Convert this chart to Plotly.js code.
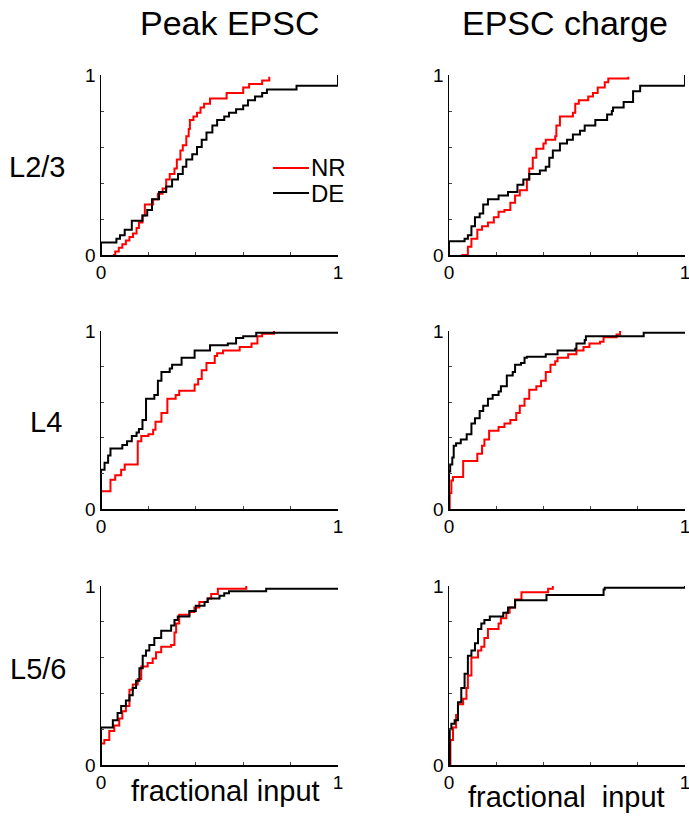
<!DOCTYPE html>
<html>
<head>
<meta charset="utf-8">
<script src="https://cdn.plot.ly/plotly-3.0.1.min.js"></script>
<style>html,body{margin:0;padding:0;background:#fff;}#chart{width:689px;height:820px;}</style>
</head>
<body>
<div id="chart"></div>
<script>
// ---------- data (step CDF vertices) ----------
const columnTitles = ["Peak EPSC", "EPSC charge"];
const rowLabels = ["L2/3", "L4", "L5/6"];
const seriesNames = ["NR", "DE"];
const tickVals = [0, 0.2, 0.4, 0.6, 0.8, 1];
const tickText = ["0", "", "", "", "", "1"];

// Row 1 (L2/3), Peak EPSC
const nrPeakL23X = [0.05,0.06,0.075,0.09,0.105,0.12,0.135,0.15,0.16,0.175,0.185,0.22,0.24,0.26,0.275,0.29,0.31,0.32,0.335,0.345,0.36,0.37,0.375,0.39,0.405,0.42,0.435,0.46,0.53,0.60,0.625,0.68,0.71];
const nrPeakL23Y = [0,0.02,0.04,0.06,0.08,0.10,0.12,0.15,0.18,0.22,0.28,0.31,0.34,0.37,0.42,0.45,0.48,0.53,0.58,0.61,0.66,0.70,0.75,0.77,0.79,0.82,0.84,0.87,0.90,0.93,0.95,0.97,0.99];
const dePeakL23X = [0,0,0.065,0.08,0.10,0.13,0.175,0.195,0.215,0.245,0.275,0.30,0.325,0.345,0.36,0.385,0.405,0.425,0.445,0.47,0.49,0.52,0.54,0.57,0.60,0.62,0.65,0.68,0.70,0.825,1.0];
const dePeakL23Y = [0,0.07,0.09,0.11,0.14,0.19,0.22,0.25,0.31,0.35,0.38,0.42,0.45,0.49,0.53,0.56,0.60,0.64,0.68,0.72,0.75,0.77,0.79,0.81,0.83,0.86,0.88,0.90,0.92,0.94,1.0];

// Row 1 (L2/3), EPSC charge
const nrChargeL23X = [0.052,0.08,0.095,0.12,0.14,0.165,0.19,0.21,0.235,0.26,0.28,0.30,0.33,0.34,0.355,0.37,0.40,0.41,0.45,0.455,0.47,0.525,0.535,0.55,0.59,0.61,0.63,0.66,0.675,0.76];
const nrChargeL23Y = [0,0.046,0.09,0.14,0.16,0.18,0.21,0.24,0.25,0.29,0.33,0.36,0.42,0.48,0.54,0.59,0.62,0.64,0.66,0.72,0.77,0.79,0.84,0.86,0.88,0.90,0.93,0.96,0.98,0.99];
const deChargeL23X = [0,0,0.066,0.08,0.095,0.11,0.13,0.145,0.165,0.21,0.25,0.29,0.315,0.34,0.385,0.41,0.425,0.44,0.47,0.50,0.525,0.555,0.575,0.62,0.67,0.69,0.695,0.74,0.78,0.81,1.0];
const deChargeL23Y = [0,0.077,0.09,0.11,0.16,0.21,0.23,0.28,0.31,0.33,0.35,0.39,0.42,0.45,0.47,0.49,0.54,0.58,0.62,0.64,0.67,0.69,0.72,0.75,0.78,0.80,0.82,0.85,0.91,0.94,1.0];

// Row 2 (L4), Peak EPSC
const nrPeakL4X = [0,0,0.04,0.06,0.085,0.10,0.155,0.17,0.20,0.22,0.23,0.255,0.28,0.315,0.33,0.395,0.41,0.425,0.445,0.48,0.49,0.515,0.585,0.635,0.66,0.68,0.73];
const nrPeakL4Y = [0,0.10,0.165,0.19,0.22,0.25,0.38,0.41,0.42,0.445,0.49,0.54,0.62,0.64,0.665,0.70,0.73,0.78,0.82,0.86,0.875,0.89,0.91,0.93,0.97,0.985,1.0];
const dePeakL4X = [0,0,0.015,0.03,0.04,0.09,0.11,0.13,0.15,0.16,0.175,0.19,0.225,0.24,0.255,0.29,0.30,0.34,0.395,0.46,0.535,0.57,0.60,0.655,1.0];
const dePeakL4Y = [0,0.22,0.26,0.30,0.34,0.36,0.38,0.41,0.43,0.45,0.50,0.62,0.64,0.72,0.77,0.79,0.81,0.85,0.89,0.92,0.93,0.96,0.97,0.99,0.99];

// Row 2 (L4), EPSC charge
const nrChargeL4X = [0,0.003,0.01,0.017,0.06,0.12,0.14,0.15,0.17,0.21,0.235,0.26,0.285,0.30,0.32,0.34,0.37,0.39,0.41,0.43,0.45,0.46,0.505,0.54,0.57,0.595,0.64,0.655,0.71,0.725];
const nrChargeL4Y = [0,0.09,0.16,0.18,0.27,0.31,0.355,0.39,0.44,0.46,0.48,0.50,0.54,0.58,0.62,0.67,0.69,0.72,0.77,0.81,0.83,0.85,0.87,0.89,0.91,0.93,0.94,0.965,0.98,1.0];
const deChargeL4X = [0,0,0.005,0.014,0.02,0.03,0.05,0.075,0.095,0.11,0.13,0.145,0.165,0.185,0.21,0.22,0.245,0.27,0.28,0.305,0.32,0.33,0.41,0.46,0.535,0.54,0.575,0.58,0.825,1.0];
const deChargeL4Y = [0,0.21,0.25,0.29,0.355,0.37,0.39,0.42,0.48,0.51,0.55,0.58,0.62,0.64,0.66,0.69,0.75,0.77,0.81,0.82,0.85,0.855,0.87,0.89,0.90,0.93,0.95,0.97,0.99,0.99];

// Row 3 (L5/6), Peak EPSC
const nrPeakL56X = [0,0,0.014,0.035,0.056,0.077,0.09,0.105,0.12,0.134,0.155,0.17,0.197,0.218,0.232,0.254,0.296,0.31,0.317,0.33,0.373,0.394,0.415,0.45,0.465,0.493,0.613];
const nrPeakL56Y = [0,0.12,0.14,0.19,0.22,0.26,0.30,0.33,0.42,0.45,0.48,0.55,0.57,0.595,0.63,0.66,0.67,0.74,0.79,0.84,0.855,0.88,0.91,0.93,0.955,0.985,1.0];
const dePeakL56X = [0,0,0.05,0.07,0.085,0.105,0.12,0.134,0.148,0.162,0.176,0.19,0.204,0.225,0.254,0.296,0.31,0.324,0.373,0.40,0.437,0.45,0.50,0.52,0.54,0.697,1.0];
const dePeakL56Y = [0,0.21,0.25,0.29,0.33,0.36,0.39,0.43,0.47,0.54,0.61,0.64,0.67,0.71,0.75,0.78,0.81,0.83,0.86,0.89,0.91,0.93,0.945,0.96,0.97,0.985,0.99];

// Row 3 (L5/6), EPSC charge
const nrChargeL56X = [0,0.006,0.017,0.03,0.038,0.06,0.074,0.08,0.095,0.123,0.137,0.15,0.165,0.21,0.22,0.243,0.257,0.28,0.307,0.42,0.44];
const nrChargeL56Y = [0,0.14,0.21,0.28,0.34,0.37,0.43,0.50,0.60,0.64,0.66,0.71,0.76,0.79,0.82,0.85,0.88,0.925,0.965,0.985,1.0];
const deChargeL56X = [0,0.003,0.01,0.024,0.038,0.052,0.066,0.08,0.095,0.11,0.123,0.137,0.15,0.173,0.23,0.25,0.28,0.413,0.655,0.66,1.0];
const deChargeL56Y = [0,0.20,0.23,0.25,0.35,0.43,0.51,0.61,0.64,0.68,0.76,0.79,0.81,0.83,0.85,0.88,0.92,0.95,0.98,0.99,1.0];

// ---------- build ----------
const W = 689, H = 820;
const FONT = "Liberation Sans, Arial, Helvetica, sans-serif";
const panels = [
  [nrPeakL23X, nrPeakL23Y, dePeakL23X, dePeakL23Y],
  [nrChargeL23X, nrChargeL23Y, deChargeL23X, deChargeL23Y],
  [nrPeakL4X, nrPeakL4Y, dePeakL4X, dePeakL4Y],
  [nrChargeL4X, nrChargeL4Y, deChargeL4X, deChargeL4Y],
  [nrPeakL56X, nrPeakL56Y, dePeakL56X, dePeakL56Y],
  [nrChargeL56X, nrChargeL56Y, deChargeL56X, deChargeL56Y]
];
const colDomains = [[101 / W, 338 / W], [449 / W, 685 / W]];
const rowDomains = [[1 - 255 / H, 1 - 75 / H], [1 - 509 / H, 1 - 331 / H], [1 - 765 / H, 1 - 586 / H]];
const colors = ["#ff0000", "#000000"];

const traces = [];
const layout = {
  width: W, height: H,
  margin: {l: 0, r: 0, t: 0, b: 0},
  paper_bgcolor: "#ffffff", plot_bgcolor: "#ffffff",
  showlegend: false,
  font: {family: FONT, color: "#000", size: 18},
  annotations: [], shapes: []
};

panels.forEach((p, i) => {
  const n = i + 1;
  const xa = n === 1 ? "x" : "x" + n;
  const ya = n === 1 ? "y" : "y" + n;
  const row = Math.floor(i / 2), col = i % 2;
  [0, 1].forEach(s => {
    traces.push({
      type: "scatter", mode: "lines",
      x: p[s * 2], y: p[s * 2 + 1],
      xaxis: xa, yaxis: ya,
      name: seriesNames[s],
      line: {color: colors[s], width: 2, shape: "hv"},
      cliponaxis: false, hoverinfo: "skip"
    });
  });
  const axCommon = {
    range: [0, 1], showgrid: false, zeroline: false,
    showline: true, linecolor: "#000", linewidth: 1.5,
    ticks: "inside", ticklen: 3, tickcolor: "#444", tickwidth: 1,
    tickmode: "array", tickvals: tickVals, ticktext: tickText,
    tickfont: {family: FONT, size: 19, color: "#000"},
    ticklabeloverflow: "allow",
    fixedrange: true
  };
  layout[n === 1 ? "xaxis" : "xaxis" + n] = Object.assign({}, axCommon, {
    domain: colDomains[col], anchor: ya
  });
  layout[n === 1 ? "yaxis" : "yaxis" + n] = Object.assign({}, axCommon, {
    domain: rowDomains[row], anchor: xa
  });
});

function ann(text, px, py, size, xanchor) {
  layout.annotations.push({
    text: text, xref: "paper", yref: "paper",
    x: px / W, y: 1 - py / H,
    xanchor: xanchor || "center", yanchor: "middle",
    showarrow: false, font: {family: FONT, size: size, color: "#000"}
  });
}
ann(columnTitles[0], 230, 23, 34);
ann(columnTitles[1], 565, 23, 34);
ann(rowLabels[0], 37, 167, 29);
ann(rowLabels[1], 46, 422, 29);
ann(rowLabels[2], 38, 669, 29);
ann("fractional input", 225, 791, 29);
ann("fractional\u00a0 input", 566, 797, 29);

// legend (top-left panel)
const legendRows = [168, 193];
seriesNames.forEach((name, s) => {
  layout.shapes.push({
    type: "line", xref: "paper", yref: "paper",
    x0: 273 / W, x1: 309 / W, y0: 1 - legendRows[s] / H, y1: 1 - legendRows[s] / H,
    line: {color: colors[s], width: 2}
  });
  ann(name, 309, legendRows[s], 24, "left");
});

Plotly.newPlot("chart", traces, layout, {staticPlot: true, displayModeBar: false});
</script>
</body>
</html>
